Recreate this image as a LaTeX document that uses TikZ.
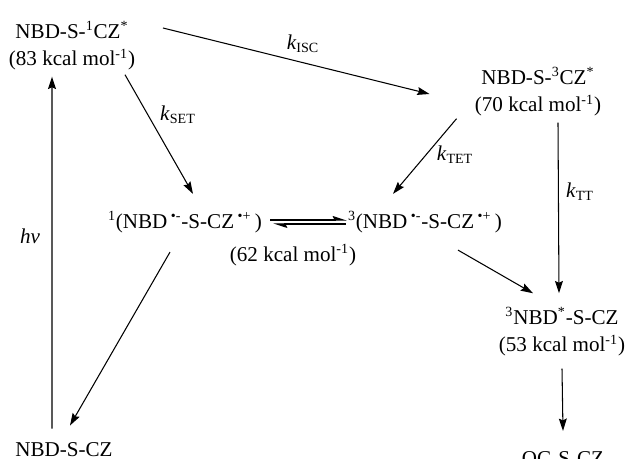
\documentclass[tikz,border=0pt]{standalone}
\usepackage{fontspec}
\setmainfont{Liberation Serif}
\usetikzlibrary{arrows.meta}

\begin{document}
\begin{tikzpicture}[>={Stealth[length=7pt,width=4.5pt,inset=1pt]}, x=1cm, y=1cm, line width=0.6pt, font=\fontsize{12}{15.5}\selectfont]

\tikzstyle{state}=[align=center]
\tikzstyle{rate}=[inner sep=1pt]
\tikzstyle{harp}=[-{Stealth[left,length=7pt,width=4.5pt,inset=1pt]}]

\useasboundingbox (0,0) rectangle (12.52,9.18);

% --- states ---
\node[state] (s1) at (1.44,8.26) {NBD-S-\textsuperscript{1}CZ\textsuperscript{*}\\(83 kcal mol\textsuperscript{-1})};
\node[state] (t1) at (10.76,7.34) {NBD-S-\textsuperscript{3}CZ\textsuperscript{*}\\(70 kcal mol\textsuperscript{-1})};
\node[state] (rp1) at (3.70,4.74) {\textsuperscript{1}(NBD\,\textsuperscript{•-}-S-CZ\,\textsuperscript{•+}\,)};
\node[state] (rp3) at (8.50,4.74) {\textsuperscript{3}(NBD\,\textsuperscript{•-}-S-CZ\,\textsuperscript{•+}\,)};
\node[state] (e62) at (5.86,4.08) {(62 kcal mol\textsuperscript{-1})};
\node[state] (t3) at (11.24,2.54) {\textsuperscript{3}NBD\textsuperscript{*}-S-CZ\\(53 kcal mol\textsuperscript{-1})};
\node[state] (gs) at (1.28,0.18) {NBD-S-CZ};
\node[state] (oc) at (11.26,-0.02) {QC-S-CZ};

% --- rate labels ---
\node[rate] (hv) at (0.60,4.46) {\textit{hν}};
\node[rate] (kisc) at (6.06,8.30) {\textit{k}\textsubscript{ISC}};
\node[rate] (kset) at (3.56,6.88) {\textit{k}\textsubscript{SET}};
\node[rate] (ktet) at (9.10,6.08) {\textit{k}\textsubscript{TET}};
\node[rate] (ktt) at (11.60,5.34) {\textit{k}\textsubscript{TT}};

% --- arrows ---
\draw[->] ([shift={(-0.24,0.16)}]gs.north) -- ([xshift=-0.40cm]s1.south);
\draw[->] ([shift={(0.43,0.36)}]s1.east) -- ([shift={(-0.78,-0.04)}]t1.west);
\draw[->] ([shift={(1.06,0.04)}]s1.south) -- ([shift={(0.16,0.22)}]rp1.north);
\draw[->] ([shift={(-0.24,0.08)}]t1.south west) -- ([shift={(-0.64,0.22)}]rp3.north);
\draw[->] ([xshift=0.40cm]t1.south) -- ([shift={(-0.06,0.16)}]t3.north);
\draw[->] ([shift={(-0.30,-0.26)}]rp1.south) -- ([shift={(0.12,0.22)}]gs.north);
\draw[->] ([shift={(0.66,-0.22)}]rp3.south) -- ([shift={(-0.58,0.16)}]t3.north);
\draw[->] ([yshift=-0.12cm]t3.south) -- ([yshift=0.28cm]oc.north);

% --- equilibrium ---
\draw[harp] ([shift={(0.04,0.04)}]rp1.east) -- ([shift={(0.10,0.04)}]rp3.west);
\draw[harp] ([shift={(0.08,-0.04)}]rp3.west) -- ([shift={(0.10,-0.04)}]rp1.east);

\end{tikzpicture}
\end{document}
